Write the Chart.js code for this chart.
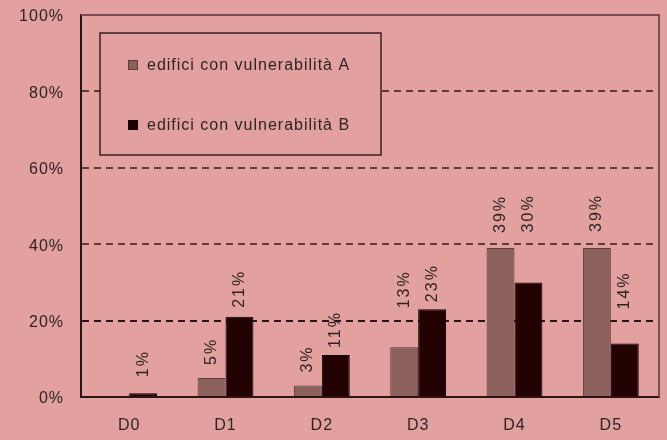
<!DOCTYPE html>
<html>
<head>
<meta charset="utf-8">
<title>Danno per vulnerabilità</title>
<script src="https://cdn.jsdelivr.net/npm/chart.js@4/dist/chart.umd.min.js"></script>
<style>
  html, body { margin: 0; padding: 0; background: #e2a19e; }
  #chart { display: block; }
</style>
</head>
<body>
<canvas id="chart" width="667" height="440"></canvas>
<script>
// Damage levels and share of buildings per vulnerability class (%)
const categories = ['D0', 'D1', 'D2', 'D3', 'D4', 'D5'];
const seriesNames = ['edifici con vulnerabilità A', 'edifici con vulnerabilità B'];
const valuesA = [0, 5, 3, 13, 39, 39];
const valuesB = [1, 21, 11, 23, 30, 14];
const yTicks = [0, 20, 40, 60, 80, 100];

const BG = '#e2a19e';
const TEXT = '#2e2424';
const FONT = 'Arial, "Liberation Sans", sans-serif';

// Fill the whole canvas with the page colour
const background = {
    id: 'background',
    beforeDraw(chart) {
        const ctx = chart.ctx;
        ctx.save();
        ctx.fillStyle = BG;
        ctx.fillRect(0, 0, chart.width, chart.height);
        ctx.restore();
    }
};

// Slightly wider letter spacing for axis text
const spacing = {
    id: 'spacing',
    beforeLayout(chart) { chart.ctx.letterSpacing = '1px'; },
    beforeDraw(chart) { chart.ctx.letterSpacing = '1px'; }
};

// Top and right edges of the plot frame
const frame = {
    id: 'frame',
    afterDatasetsDraw(chart) {
        const { ctx, chartArea: a } = chart;
        ctx.save();
        ctx.strokeStyle = '#7a4e4e';
        ctx.lineWidth = 2;
        ctx.beginPath();
        ctx.moveTo(a.left, a.top);
        ctx.lineTo(a.right, a.top);
        ctx.lineTo(a.right, a.bottom);
        ctx.stroke();
        ctx.restore();
    }
};

// Vertical percentage labels above the bars
const barLabels = {
    id: 'barLabels',
    afterDatasetsDraw(chart, args, opts) {
        const ctx = chart.ctx;
        ctx.save();
        ctx.font = '16px ' + FONT;
        ctx.letterSpacing = '2px';
        ctx.fillStyle = TEXT;
        ctx.textAlign = 'left';
        ctx.textBaseline = 'middle';
        chart.data.datasets.forEach((ds, i) => {
            const meta = chart.getDatasetMeta(i);
            meta.data.forEach((bar, j) => {
                const v = ds.data[j];
                if (!v) return;
                const lift = opts.lift[i][j];
                ctx.save();
                ctx.translate(bar.x, bar.y - lift);
                ctx.rotate(-Math.PI / 2);
                ctx.fillText(v + '%', 0, 0);
                ctx.restore();
            });
        });
        ctx.restore();
    }
};

// Boxed legend inside the plot area
const boxLegend = {
    id: 'boxLegend',
    afterDraw(chart) {
        const ctx = chart.ctx;
        const x = 100, y = 33, w = 281, h = 122;
        ctx.save();
        ctx.fillStyle = BG;
        ctx.fillRect(x, y, w, h);
        ctx.strokeStyle = '#3a2020';
        ctx.lineWidth = 1.5;
        ctx.strokeRect(x, y, w, h);
        ctx.font = '16px ' + FONT;
        ctx.letterSpacing = '1px';
        ctx.textBaseline = 'middle';
        chart.data.datasets.forEach((ds, i) => {
            const cy = y + 32 + i * 60;
            ctx.fillStyle = ds.backgroundColor;
            ctx.fillRect(x + 28, cy - 5, 10, 10);
            ctx.strokeStyle = ds.borderColor;
            ctx.lineWidth = 1;
            ctx.strokeRect(x + 28.5, cy - 4.5, 9, 9);
            ctx.fillStyle = TEXT;
            ctx.fillText(ds.label, x + 47, cy + 1);
        });
        ctx.restore();
    }
};

new Chart(document.getElementById('chart'), {
    type: 'bar',
    data: {
        labels: categories,
        datasets: [
            {
                label: seriesNames[0],
                data: valuesA,
                backgroundColor: '#8b5f5c',
                borderColor: '#5e3c3a',
                borderWidth: 1
            },
            {
                label: seriesNames[1],
                data: valuesB,
                backgroundColor: '#220202',
                borderColor: '#120000',
                borderWidth: 1
            }
        ]
    },
    options: {
        responsive: false,
        animation: false,
        categoryPercentage: 0.58,
        barPercentage: 1,
        layout: { padding: { top: 15, right: 8, left: 0, bottom: 0 } },
        scales: {
            x: {
                grid: { display: false },
                border: { display: true, color: '#2a1414', width: 2 },
                ticks: {
                    color: TEXT,
                    font: { family: FONT, size: 16 },
                    padding: 11
                },
                afterFit(scale) {
                    scale.height = 43;
                    scale.paddingLeft = 0;
                    scale.paddingRight = 0;
                }
            },
            y: {
                min: 0,
                max: 100,
                afterBuildTicks(scale) {
                    scale.ticks = yTicks.map(v => ({ value: v }));
                },
                grid: {
                    drawTicks: false,
                    lineWidth: 2,
                    color(c) {
                        const v = c.tick.value;
                        if (v === 0 || v === 100) return 'rgba(0,0,0,0)';
                        return v === 20 ? '#2a1414' : '#5e3a3a';
                    }
                },
                border: { display: true, color: '#2a1414', width: 2, dash: [7, 5] },
                ticks: {
                    color: TEXT,
                    font: { family: FONT, size: 16 },
                    padding: 17,
                    labelOffset: 2,
                    callback: v => v + '%'
                },
                afterFit(scale) {
                    scale.width = 81;
                    scale.paddingTop = 0;
                    scale.paddingBottom = 0;
                }
            }
        },
        plugins: {
            legend: { display: false },
            tooltip: { enabled: false },
            barLabels: {
                lift: [
                    [0, 13, 13, 39, 15, 16],
                    [16, 9, 7, 7, 50, 34]
                ]
            }
        }
    },
    plugins: [background, spacing, frame, barLabels, boxLegend]
});
</script>
</body>
</html>
